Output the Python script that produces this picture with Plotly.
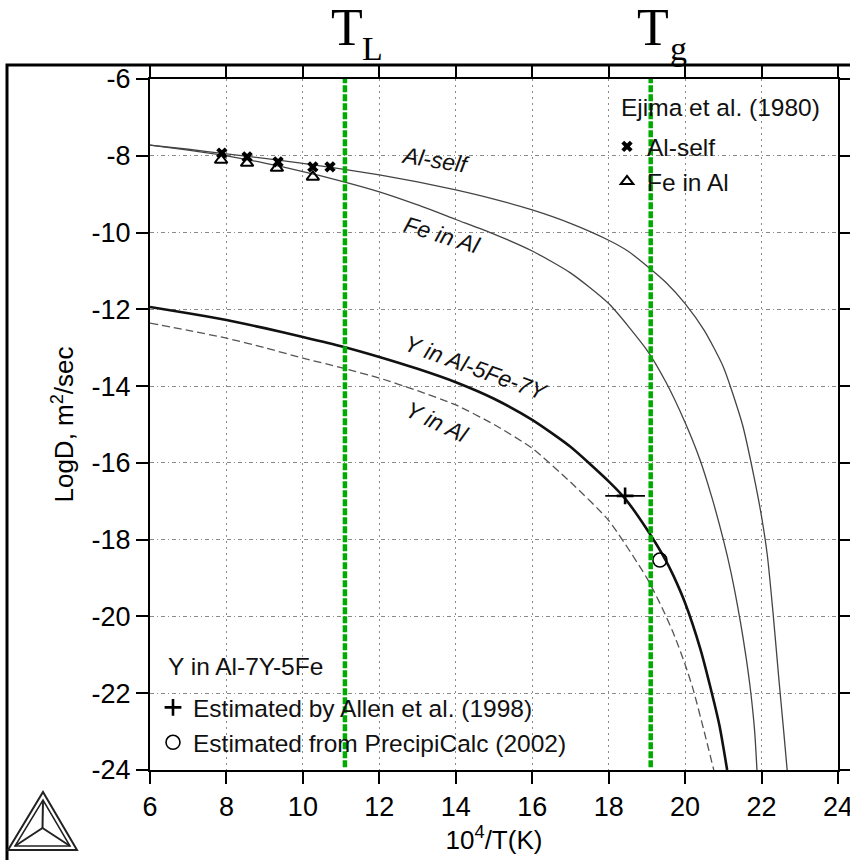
import plotly.graph_objects as go

# ---------------- data ----------------
al_self_x = [6.0, 7.0, 8.0, 9.0, 10.0, 11.0, 12.0, 13.0, 14.0, 15.0, 16.0, 17.0, 18.0, 18.5,
             19.0, 19.5, 20.0, 20.5, 21.0, 21.5, 21.8, 22.0, 22.15, 22.3, 22.45, 22.58, 22.67]
al_self_y = [-7.72, -7.83, -7.95, -8.07, -8.2, -8.34, -8.5, -8.68, -8.89, -9.13, -9.41, -9.76, -10.2, -10.48,
             -10.87, -11.3, -11.85, -12.55, -13.5, -15.0, -16.35, -17.4, -18.4, -19.9, -21.6, -23.0, -24.0]

fe_al_x = [6.0, 7.0, 8.0, 9.0, 10.0, 11.0, 12.0, 13.0, 14.0, 15.0, 16.0, 17.0, 18.0, 19.0,
           19.5, 20.0, 20.4, 20.7, 21.0, 21.2, 21.44, 21.6, 21.72, 21.82, 21.88]
fe_al_y = [-7.72, -7.85, -8.0, -8.19, -8.41, -8.66, -8.94, -9.28, -9.66, -10.04, -10.48, -11.05, -11.85, -13.06,
           -13.9, -14.95, -15.95, -16.9, -18.0, -18.85, -20.1, -21.1, -22.0, -23.0, -24.0]

y_alloy_x = [6.0, 7.0, 8.0, 9.0, 10.0, 11.0, 12.0, 13.0, 14.0, 15.0, 16.0, 17.0,
             18.0, 18.43, 19.0, 19.5, 19.7, 20.0, 20.4, 20.65, 20.9, 21.1]
y_alloy_y = [-11.94, -12.1, -12.28, -12.49, -12.72, -12.96, -13.24, -13.55, -13.9, -14.33, -14.88, -15.58,
             -16.48, -16.93, -17.73, -18.55, -18.95, -19.65, -20.85, -21.8, -22.85, -24.0]

y_al_x = [6.0, 7.0, 8.0, 9.0, 10.0, 11.0, 12.0, 13.0, 14.0, 15.0, 16.0, 17.0, 18.0,
          19.0, 19.4, 19.7, 20.0, 20.21, 20.5, 20.75]
y_al_y = [-12.36, -12.55, -12.75, -13.0, -13.27, -13.52, -13.79, -14.12, -14.49, -15.0, -15.62, -16.5, -17.5,
          -19.0, -19.78, -20.45, -21.25, -21.9, -23.0, -24.0]

ejima_self_x = [7.88, 8.54, 9.35, 10.26, 10.71]
ejima_self_y = [-7.93, -8.03, -8.16, -8.29, -8.29]
ejima_fe_x = [7.86, 8.54, 9.32, 10.26]
ejima_fe_y = [-8.11, -8.19, -8.32, -8.55]

allen_x = [18.43]
allen_y = [-16.86]
allen_err = [0.52]
precipi_x = [19.34]
precipi_y = [-18.53]

T_L = 11.1
T_g = 19.1

x_ticks = [6, 8, 10, 12, 14, 16, 18, 20, 22, 24]
y_ticks = [-6, -8, -10, -12, -14, -16, -18, -20, -22, -24]

curve_labels = ["Al-self", "Fe in Al", "Y in Al-5Fe-7Y", "Y in Al"]
curve_label_x = [13.48, 13.64, 14.53, 13.51]
curve_label_y = [-8.11, -10.06, -13.53, -14.93]
curve_label_angle = [9, 17, 20, 25]

# ---------------- layout geometry ----------------
W, H = 850, 860
ML, MR, MT, MB = 150, 12, 79, 90
PW, PH = W - ML - MR, H - MT - MB


def px(xp):
    return (xp - ML) / PW


def py(yp):
    return (H - MB - yp) / PH


FONT = "Arial, Liberation Sans, sans-serif"
SERIF = "Liberation Serif, Times New Roman, serif"

fig = go.Figure()

fig.add_trace(go.Scatter(x=al_self_x, y=al_self_y, mode="lines", showlegend=False,
                         line=dict(color="#444", width=1.3, shape="spline", smoothing=0.6)))
fig.add_trace(go.Scatter(x=fe_al_x, y=fe_al_y, mode="lines", showlegend=False,
                         line=dict(color="#444", width=1.3, shape="spline", smoothing=0.6)))
fig.add_trace(go.Scatter(x=y_alloy_x, y=y_alloy_y, mode="lines", showlegend=False,
                         line=dict(color="#111", width=2.6, shape="spline", smoothing=0.6)))
fig.add_trace(go.Scatter(x=y_al_x, y=y_al_y, mode="lines", showlegend=False,
                         line=dict(color="#555", width=1.3, dash="8px,4px", shape="spline", smoothing=0.6)))

fig.add_trace(go.Scatter(x=ejima_fe_x, y=ejima_fe_y, mode="markers", name="Fe in Al",
                         legend="legend", legendrank=2,
                         marker=dict(symbol="triangle-up-open", size=11, color="black",
                                     line=dict(width=2, color="black"))))
fig.add_trace(go.Scatter(x=ejima_self_x, y=ejima_self_y, mode="markers", name="Al-self",
                         legend="legend", legendrank=1,
                         marker=dict(symbol="x", size=10, color="black")))

fig.add_trace(go.Scatter(x=allen_x, y=allen_y, mode="markers", name="Estimated by Allen et al. (1998)",
                         legend="legend2", legendrank=1,
                         error_x=dict(type="data", array=allen_err, color="black", thickness=1.6, width=0),
                         marker=dict(symbol="cross-thin", size=12, color="black",
                                     line=dict(width=2.6, color="black"))))
fig.add_trace(go.Scatter(x=precipi_x, y=precipi_y, mode="markers", name="Estimated from PrecipiCalc (2002)",
                         legend="legend2", legendrank=2,
                         marker=dict(symbol="circle-open", size=14, color="black",
                                     line=dict(width=1.6, color="black"))))

shapes = []
# green vertical lines at T_L and T_g
for xv in (T_L, T_g):
    shapes.append(dict(type="line", xref="x", yref="paper", x0=xv, x1=xv, y0=0.004, y1=1,
                       line=dict(color="rgb(0,170,0)", width=4.5, dash="7px,2px"), layer="above"))
# outer frame
shapes.append(dict(type="rect", xref="paper", yref="paper", x0=px(7), x1=px(870), y0=py(880), y1=py(65),
                   line=dict(color="black", width=3), layer="below"))


# logo (triangles)
def tri(pts):
    d = "M {} {} ".format(px(pts[0][0]), py(pts[0][1]))
    for p in pts[1:]:
        d += "L {} {} ".format(px(p[0]), py(p[1]))
    return d + "Z"


shapes.append(dict(type="path", xref="paper", yref="paper", path=tri([(8, 850), (77, 850), (43, 792)]),
                   line=dict(color="#222", width=2)))
shapes.append(dict(type="path", xref="paper", yref="paper", path=tri([(15, 846), (70, 846), (43, 800)]),
                   line=dict(color="#222", width=1.5)))
for vx, vy in [(43, 800), (15, 846), (70, 846)]:
    shapes.append(dict(type="line", xref="paper", yref="paper", x0=px(42.5), y0=py(828), x1=px(vx), y1=py(vy),
                       line=dict(color="#222", width=2)))

annotations = []
for t, xv, yv, ang in zip(curve_labels, curve_label_x, curve_label_y, curve_label_angle):
    annotations.append(dict(text=t, x=xv, y=yv, xref="x", yref="y", showarrow=False, textangle=ang,
                            font=dict(family=FONT, size=23, color="#111", style="italic")))
# T_L and T_g labels (main letter + subscript)
for sub, xv in (("L", T_L), ("g", T_g)):
    annotations.append(dict(text="T", x=xv, y=py(45 - 0.3375 * 52), xref="x", yref="paper", showarrow=False,
                            xanchor="center", yanchor="middle", xshift=2,
                            font=dict(family=SERIF, size=52, color="black")))
    annotations.append(dict(text=sub, x=xv, y=py(60 - 0.3375 * 34), xref="x", yref="paper", showarrow=False,
                            xanchor="center", yanchor="middle", xshift=28,
                            font=dict(family=SERIF, size=34, color="black")))
# legend titles
annotations.append(dict(text="Ejima et al. (1980)", x=px(619), y=py(108), xref="paper", yref="paper",
                        showarrow=False, xanchor="left", yanchor="middle",
                        font=dict(family=FONT, size=24.5, color="#111")))
annotations.append(dict(text="Y in Al-7Y-5Fe", x=px(166), y=py(666), xref="paper", yref="paper",
                        showarrow=False, xanchor="left", yanchor="middle",
                        font=dict(family=FONT, size=24.5, color="#111")))

axis_common = dict(showline=True, linecolor="black", linewidth=2, mirror="ticks",
                   ticks="outside", ticklen=12, tickwidth=2, tickcolor="black",
                   showgrid=True, gridcolor="#8a8a8a", gridwidth=1, automargin=False,
                   ticklabeloverflow="allow",
                   tickfont=dict(family=FONT, size=27, color="black"), zeroline=False)

fig.update_layout(
    width=W, height=H, autosize=False,
    margin=dict(l=ML, r=MR, t=MT, b=MB),
    paper_bgcolor="white", plot_bgcolor="white",
    showlegend=True,
    xaxis=dict(range=[6, 24], tickvals=x_ticks, ticktext=[str(v) for v in x_ticks], griddash="2px,4px",
               title=dict(text="10<sup>4</sup>/T(K)", font=dict(family=FONT, size=26, color="black"), standoff=8),
               **axis_common),
    yaxis=dict(range=[-24, -6], tickvals=y_ticks, ticktext=[str(v) for v in y_ticks],
               griddash="4px,3px,1px,3px",
               title=dict(text="LogD, m<sup>2</sup>/sec", font=dict(family=FONT, size=26, color="black"), standoff=10),
               **axis_common),
    legend=dict(font=dict(family=FONT, size=24.5, color="#111"),
                x=px(607), y=py(124), xanchor="left", yanchor="top",
                bgcolor="rgba(0,0,0,0)", borderwidth=0, itemwidth=30, tracegroupgap=0),
    legend2=dict(font=dict(family=FONT, size=24.5, color="#111"),
                 x=px(153), y=py(685), xanchor="left", yanchor="top",
                 bgcolor="rgba(0,0,0,0)", borderwidth=0, itemwidth=30, tracegroupgap=0),
    shapes=shapes,
    annotations=annotations,
)

fig.write_html("out.html", config={"displayModeBar": False},
               post_script="document.body.style.margin='0px';document.body.style.overflow='hidden';")
